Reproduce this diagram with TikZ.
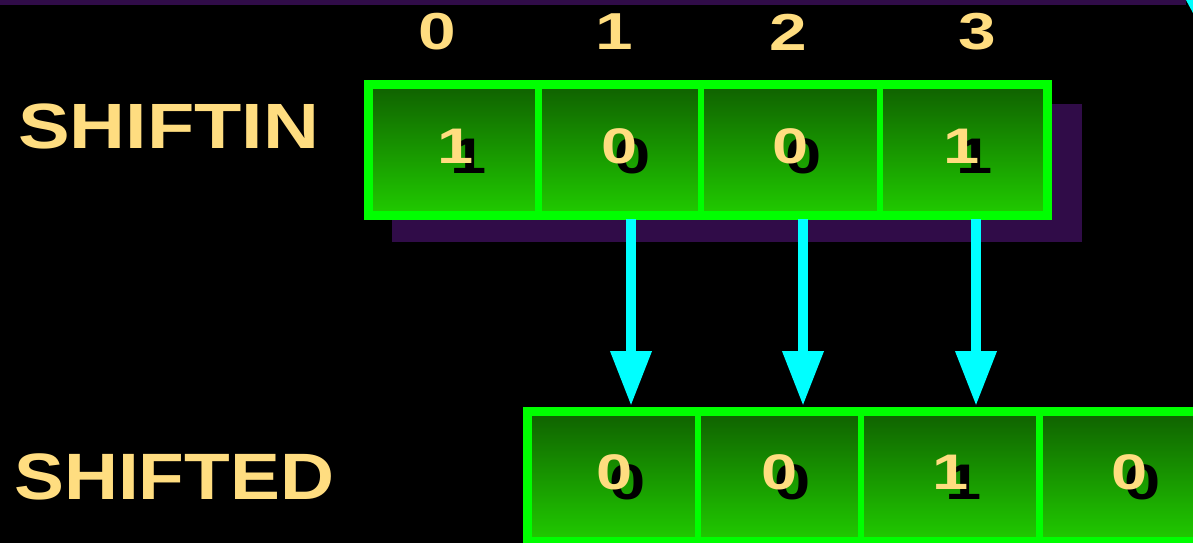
\documentclass[tikz,border=0pt]{standalone}
\usepackage{fontspec}
\setmainfont{Liberation Sans}
\usepackage{xcolor}
\usepackage{tikz}
\usetikzlibrary{arrows.meta}
\usetikzlibrary{calc}

\definecolor{bitgold}{HTML}{FFDD80}
\definecolor{regpurple}{HTML}{300C48}
\definecolor{regdark}{HTML}{106400}
\definecolor{reglight}{HTML}{20C800}
\definecolor{reggreen}{RGB}{0,255,0}
\definecolor{arrcyan}{RGB}{0,255,255}

\newcommand{\bitval}[1]{\scalebox{1.3}[1]{\rlap{\kern10pt\raisebox{-10pt}[0pt][0pt]{\color{black}#1}}#1}}

\begin{document}
\begin{tikzpicture}[x=1pt, y=-1pt,
    cell/.style={top color=regdark, bottom color=reglight, inner sep=0pt, outer sep=0pt,
        text depth=8pt, text=bitgold, font=\fontsize{50}{50}\bfseries\selectfont},
    regframe/.style={draw=reggreen, line width=9pt},
    divider/.style={draw=reggreen, line width=6.5pt},
    arr/.style={draw=arrcyan, line width=10pt, -{Triangle[width=39pt,length=55pt]},
        shorten <=8pt, shorten >=10pt},
    idx/.style={text=bitgold, inner sep=0pt, font=\fontsize{52}{52}\bfseries\selectfont},
    regname/.style={text=bitgold, inner sep=0pt, anchor=base west}]
    \clip (0,0) rectangle (1193,543);
    \fill[black] (0,0) rectangle (1193,543);
    \fill[regpurple] (0,0) rectangle (1186,5);
    \fill[arrcyan] (1186,0) -- (1193,0) -- (1193,13) -- cycle;
    \fill[regpurple] (392,104) rectangle (1082,242);

    \node[idx] (idx0) at (437,32) {\scalebox{1.3}[1]{0}};
    \node[idx] (idx1) at (614,32) {\scalebox{1.3}[1]{1}};
    \node[idx] (idx2) at (788,32) {\scalebox{1.3}[1]{2}};
    \node[idx] (idx3) at (977,32) {\scalebox{1.3}[1]{3}};

    \node[regname, font=\fontsize{64}{64}\bfseries\selectfont] (lblin) at (18,148)
        {\scalebox{1.21}[1]{SHIFTIN}};
    \node[regname, font=\fontsize{65.6}{66}\bfseries\selectfont] (lblout) at (14,499)
        {\scalebox{1.14}[1]{SHIFTED}};

    \node[cell, minimum width=165.5pt, minimum height=122pt] (in0) at (455.75,150) {\bitval{1}};
    \node[cell, minimum width=162.5pt, minimum height=122pt] (in1) at (619.75,150) {\bitval{0}};
    \node[cell, minimum width=179pt, minimum height=122pt] (in2) at (790.5,150) {\bitval{0}};
    \node[cell, minimum width=163pt, minimum height=122pt] (in3) at (961.5,150) {\bitval{1}};

    \node[cell, minimum width=166pt, minimum height=121pt] (out0) at (615,476.5) {\bitval{0}};
    \node[cell, minimum width=163pt, minimum height=121pt] (out1) at (779.5,476.5) {\bitval{0}};
    \node[cell, minimum width=178.5pt, minimum height=121pt] (out2) at (950.25,476.5) {\bitval{1}};
    \node[cell, minimum width=180pt, minimum height=121pt] (out3) at (1129.5,476.5) {\bitval{0}};

    \draw[regframe] ([shift={(-4.5,-4.5)}]in0.north west) rectangle ([shift={(4.5,4.5)}]in3.south east);
    \draw[regframe] ([shift={(-4.5,-4.5)}]out0.north west) rectangle ([shift={(4.5,4.5)}]out3.south east);

    \draw[divider] (in0.north east) -- (in0.south east);
    \draw[divider] (in1.north east) -- (in1.south east);
    \draw[divider] (in2.north east) -- (in2.south east);
    \draw[divider] (out0.north east) -- (out0.south east);
    \draw[divider] (out1.north east) -- (out1.south east);
    \draw[divider] (out2.north east) -- (out2.south east);

    \draw[arr] ($(in1.south)+(11.25,0)$) -- ($(in1.south |- out0.north)+(11.25,0)$);
    \draw[arr] ($(in2.south)+(12.5,0)$) -- ($(in2.south |- out1.north)+(12.5,0)$);
    \draw[arr] ($(in3.south)+(14.5,0)$) -- ($(in3.south |- out2.north)+(14.5,0)$);
\end{tikzpicture}
\end{document}
